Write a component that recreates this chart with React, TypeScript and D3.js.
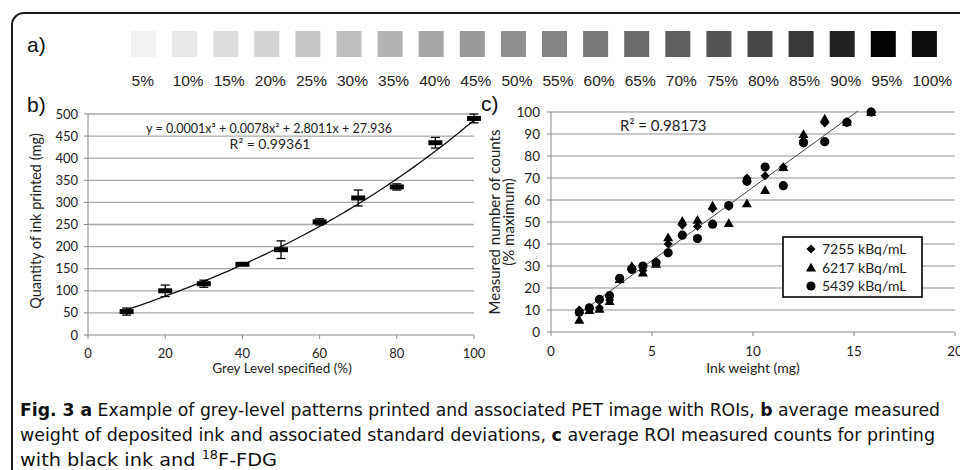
import React from "react";
import * as d3 from "d3";

// panel a: printed grey-level patterns
const greyLevels = [5, 10, 15, 20, 25, 30, 35, 40, 45, 50, 55, 60, 65, 70, 75, 80, 85, 90, 95, 100];
const greyShades = [243, 232, 221, 211, 200, 190, 178, 166, 155, 143, 132, 120, 108, 96, 84, 70, 56, 34, 2, 14];

// panel b: ink weight vs grey level
const greyLevelB = [10, 20, 30, 40, 50, 60, 70, 80, 90, 100];
const inkMean = [53, 100, 116, 160, 193, 256, 310, 335, 435, 490];
const inkSd = [8, 13, 8, 2, 20, 7, 18, 7, 12, 10];
const polyCoef = [0.0001, 0.0078, 2.8011, 27.936]; // x^3, x^2, x, 1
const yTicksB = [0, 50, 100, 150, 200, 250, 300, 350, 400, 450, 500];
const xTicksB = [0, 20, 40, 60, 80, 100];

// panel c: measured counts vs ink weight
const inkWeight = [1.4, 1.9, 2.4, 2.9, 3.4, 4.0, 4.55, 5.2, 5.8, 6.5, 7.25, 8.0, 8.8, 9.7, 10.6, 11.5, 12.5, 13.55, 14.65, 15.85];
const counts7255 = [10, 10.5, 11, 14.5, 24, 29.5, 28, 32, 40, 48.5, 48, 56, 57, 70, 71, 75, 87, 95, 95.5, 100];
const counts6217 = [5.5, 10, 10.5, 14, 24, 30, 27, 31, 43, 50.5, 51, 57.5, 49.5, 58.5, 64.5, 75, 90, 97, 95.5, 100];
const counts5439 = [9, 11, 14.8, 16.5, 24.4, 28.5, 30, 31.5, 36, 44, 42.5, 49, 57.5, 68.5, 75, 66.5, 86, 86.5, 95.3, 100];
const lineCoef = [6.67, -0.9]; // slope, intercept
const lineRange = [1.2, 15.2];
const yTicksC = [0, 10, 20, 30, 40, 50, 60, 70, 80, 90, 100];
const xTicksC = [0, 5, 10, 15, 20];
const seriesNames = ["7255 kBq/mL", "6217 kBq/mL", "5439 kBq/mL"];

const chartFont = "Lato, 'Open Sans', sans-serif";
const labelFont = "Arial, 'Liberation Sans', sans-serif";
const capFont = "'DejaVu Sans Condensed', 'Roboto', sans-serif";

const xB = d3.scaleLinear().domain([0, 100]).range([88, 474]);
const yB = d3.scaleLinear().domain([0, 500]).range([335, 114]);
const xC = d3.scaleLinear().domain([0, 20]).range([551, 955]);
const yC = d3.scaleLinear().domain([0, 100]).range([332, 112]);

const poly = (x: number) => polyCoef[0] * x ** 3 + polyCoef[1] * x ** 2 + polyCoef[2] * x + polyCoef[3];

const Marker = ({ kind, x, y }: { kind: number; x: number; y: number }) => {
  if (kind === 0) {
    const d = d3.symbol(d3.symbolSquare, 40)();
    return <path d={d || ""} transform={`translate(${x},${y}) rotate(45)`} fill="#000" />;
  }
  if (kind === 1) {
    const d = d3.symbol(d3.symbolTriangle, 44)();
    return <path d={d || ""} transform={`translate(${x},${y + 1})`} fill="#000" />;
  }
  const d = d3.symbol(d3.symbolCircle, 66)();
  return <path d={d || ""} transform={`translate(${x},${y})`} fill="#000" />;
};

export default function App() {
  const trendB = d3.line<number>().x((d) => xB(d)).y((d) => yB(poly(d)))(d3.range(10, 100.5, 1));
  const seriesC = [counts7255, counts6217, counts5439];

  return (
    <svg width={960} height={470} style={{ position: "absolute", left: 0, top: 0, background: "#fff" }}>
      <rect x={12} y={13} width={990} height={500} rx={12} fill="none" stroke="#1a1a1a" strokeWidth={2} />

      {/* a) */}
      <text x={27} y={52} fontFamily={labelFont} fontSize={21} fill="#111">a)</text>
      {greyLevels.map((g, i) => {
        const x = 131 + i * 41.1;
        const v = greyShades[i];
        return (
          <g key={g}>
            <rect x={x} y={31} width={25} height={26} fill={`rgb(${v},${v},${v})`} />
            <text x={x + 0.5} y={86} fontFamily={labelFont} fontSize={15.5} fill="#222">{g}%</text>
          </g>
        );
      })}

      {/* b) */}
      <text x={27} y={112} fontFamily={labelFont} fontSize={21} fill="#111">b)</text>
      <g fontFamily={chartFont} fontSize={13} fill="#222">
        {yTicksB.map((t) => (
          <g key={t}>
            {t > 0 && <line x1={xB(0)} x2={xB(100)} y1={yB(t)} y2={yB(t)} stroke="#a9a9a9" strokeWidth={1.3} />}
            <line x1={84} x2={xB(0)} y1={yB(t)} y2={yB(t)} stroke="#888" />
            <text x={78} y={yB(t) + 4.5} textAnchor="end">{t}</text>
          </g>
        ))}
        <line x1={xB(0)} x2={xB(0)} y1={yB(500)} y2={yB(0)} stroke="#888" />
        <line x1={xB(0)} x2={xB(100)} y1={yB(0)} y2={yB(0)} stroke="#888" />
        {xTicksB.map((t) => (
          <g key={t}>
            <line x1={xB(t)} x2={xB(t)} y1={yB(0)} y2={yB(0) + 4} stroke="#888" />
            <text x={xB(t)} y={358} textAnchor="middle">{t}</text>
          </g>
        ))}
        <text x={282} y={373} textAnchor="middle" fontSize={13.5}>Grey Level specified (%)</text>
        <text transform="translate(41,221) rotate(-90)" textAnchor="middle" fontSize={14.5}>Quantity of ink printed (mg)</text>
        <text x={269} y={133} textAnchor="middle" textLength={246} lengthAdjust="spacingAndGlyphs">
          y = 0.0001x³ + 0.0078x² + 2.8011x + 27.936
        </text>
        <text x={270} y={149} textAnchor="middle" fontSize={14}>R² = 0.99361</text>
      </g>
      <path d={trendB || ""} fill="none" stroke="#111" strokeWidth={1.3} />
      {greyLevelB.map((g, i) => {
        const x = xB(g);
        const y = yB(inkMean[i]);
        const y0 = yB(inkMean[i] - inkSd[i]);
        const y1 = yB(inkMean[i] + inkSd[i]);
        return (
          <g key={g} stroke="#000" strokeWidth={1.3}>
            <line x1={x} x2={x} y1={y0} y2={y1} />
            <line x1={x - 4.5} x2={x + 4.5} y1={y0} y2={y0} />
            <line x1={x - 4.5} x2={x + 4.5} y1={y1} y2={y1} />
            <rect x={x - 7} y={y - 2.5} width={14} height={5} fill="#000" stroke="none" />
          </g>
        );
      })}

      {/* c) */}
      <text x={481} y={111} fontFamily={labelFont} fontSize={21} fill="#111">c)</text>
      <g fontFamily={chartFont} fontSize={13.5} fill="#222">
        {yTicksC.map((t) => (
          <g key={t}>
            {t > 0 && <line x1={xC(0)} x2={xC(20)} y1={yC(t)} y2={yC(t)} stroke="#b5b5b5" strokeWidth={1.3} />}
            <line x1={547} x2={xC(0)} y1={yC(t)} y2={yC(t)} stroke="#888" />
            <text x={540} y={yC(t) + 4.5} textAnchor="end">{t}</text>
          </g>
        ))}
        <line x1={xC(0)} x2={xC(0)} y1={yC(100)} y2={yC(0)} stroke="#888" />
        <line x1={xC(0)} x2={xC(20)} y1={yC(0)} y2={yC(0)} stroke="#888" />
        {xTicksC.map((t) => (
          <g key={t}>
            <line x1={xC(t)} x2={xC(t)} y1={yC(0)} y2={yC(0) + 4} stroke="#888" />
            <text x={xC(t)} y={356} textAnchor="middle">{t}</text>
          </g>
        ))}
        <text x={753} y={373} textAnchor="middle" fontSize={14}>Ink weight (mg)</text>
        <text transform="translate(500,222) rotate(-90)" textAnchor="middle" fontSize={15}>Measured number of counts</text>
        <text transform="translate(514,222) rotate(-90)" textAnchor="middle" fontSize={15}>(% maximum)</text>
        <text x={620} y={131} fontSize={15}>R² = 0.98173</text>
      </g>
      <line
        x1={xC(lineRange[0])}
        x2={xC(lineRange[1])}
        y1={yC(lineCoef[0] * lineRange[0] + lineCoef[1])}
        y2={yC(lineCoef[0] * lineRange[1] + lineCoef[1])}
        stroke="#444"
        strokeWidth={1}
      />
      {seriesC.map((s, k) => (
        <g key={k}>
          {s.map((v, i) => (
            <Marker key={i} kind={k} x={xC(inkWeight[i])} y={yC(v)} />
          ))}
        </g>
      ))}
      <rect x={783} y={237} width={139} height={60} fill="#fff" stroke="#000" strokeWidth={1.6} />
      {seriesNames.map((n, k) => (
        <g key={n}>
          <Marker kind={k} x={811} y={249 + k * 18.5} />
          <text x={822} y={254 + k * 18.5} fontFamily={chartFont} fontSize={14} fill="#222">{n}</text>
        </g>
      ))}

      {/* caption */}
      <g fontFamily={capFont} fontSize={18} fill="#111">
        <text x={20} y={416} textLength={920} lengthAdjust="spacingAndGlyphs">
          <tspan fontWeight="bold">Fig. 3 a</tspan> Example of grey-level patterns printed and associated PET image with ROIs, <tspan fontWeight="bold">b</tspan> average measured
        </text>
        <text x={20} y={441} textLength={915} lengthAdjust="spacingAndGlyphs">
          weight of deposited ink and associated standard deviations, <tspan fontWeight="bold">c</tspan> average ROI measured counts for printing
        </text>
        <text x={20} y={466} textLength={257} lengthAdjust="spacingAndGlyphs">
          with black ink and <tspan fontSize={12} dy={-7}>18</tspan><tspan dy={7}>F-FDG</tspan>
        </text>
      </g>
    </svg>
  );
}
